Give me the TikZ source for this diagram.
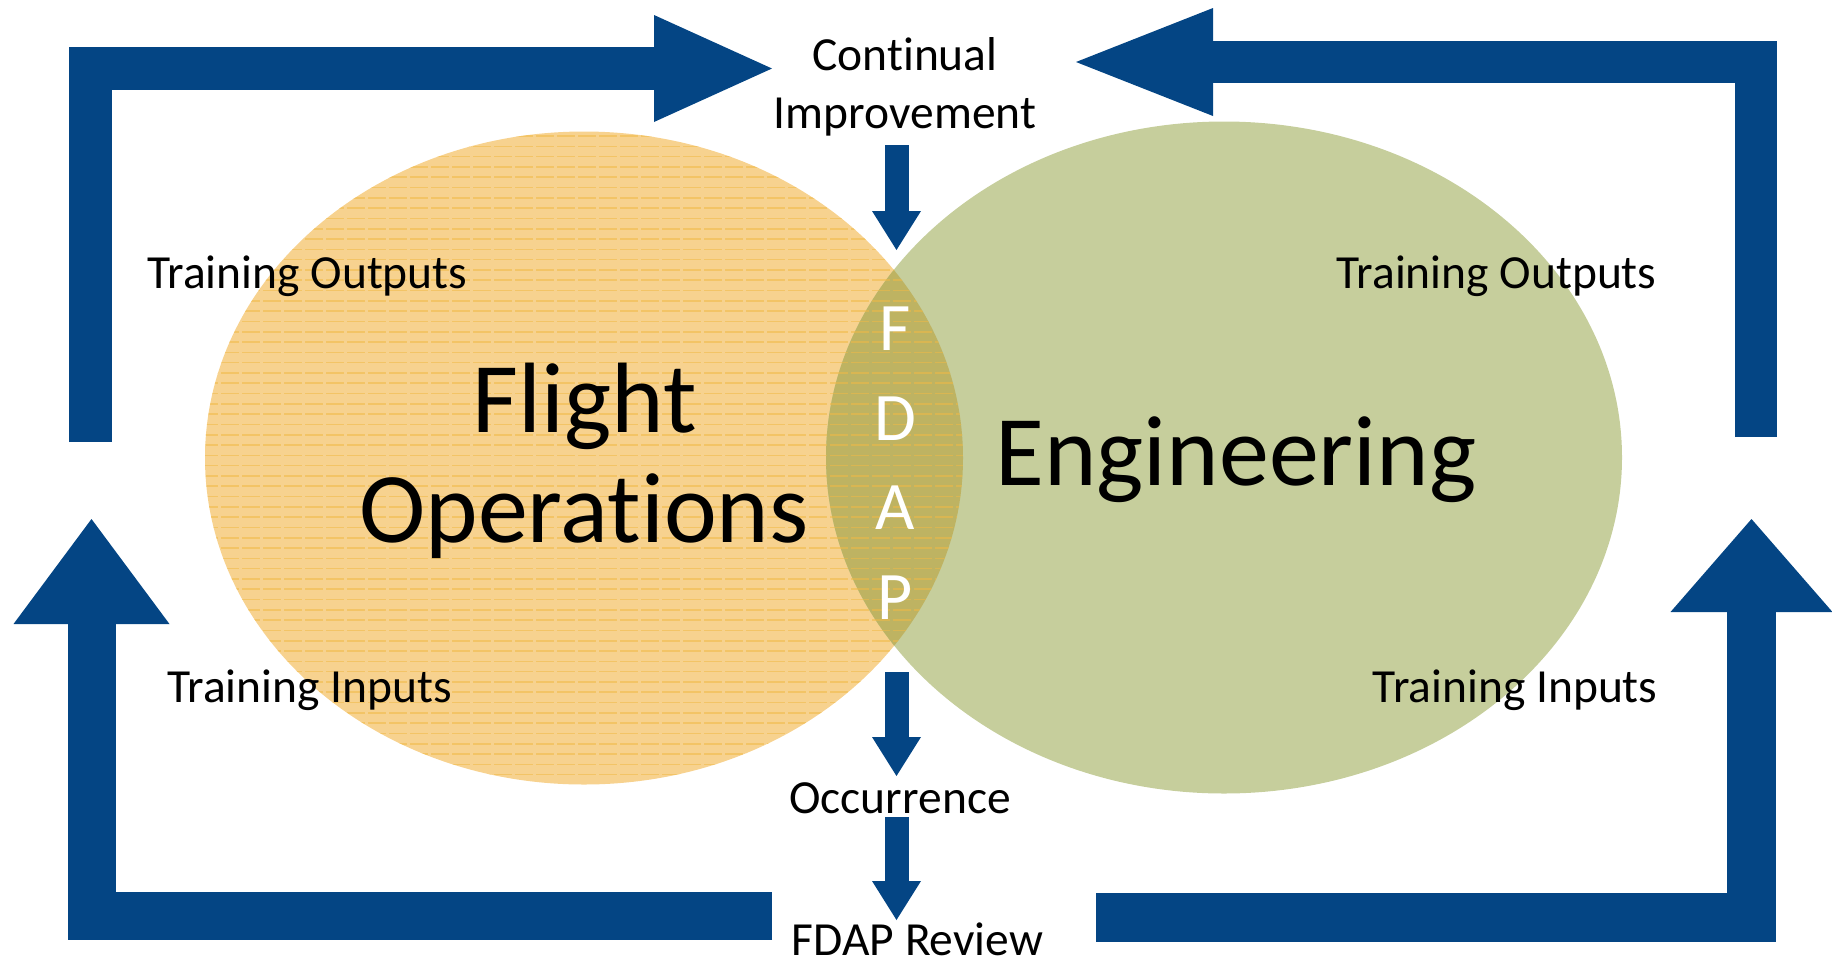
\documentclass[tikz,border=0pt]{standalone}
\usepackage{fontspec}
\setmainfont{Carlito}[Ligatures={NoCommon,NoContextual,NoRequired},Contextuals=NoAlternate]
\usetikzlibrary{arrows.meta}
\definecolor{flowblue}{RGB}{4,69,132}
\definecolor{orangefill}{RGB}{247,210,143}
\definecolor{orangeline}{RGB}{240,186,70}
\definecolor{greenfill}{RGB}{198,206,156}
\definecolor{overlapfill}{RGB}{190,179,98}
\begin{document}
\begin{tikzpicture}[x=0.5pt,y=-0.5pt,
  lbl/.style={font=\fontsize{23.75pt}{29pt}\selectfont, inner sep=0pt},
  big/.style={font=\fontsize{50pt}{55pt}\selectfont, inner sep=0pt},
  letter/.style={font=\fontsize{34pt}{40pt}\selectfont, text=white, inner sep=0pt, anchor=base},
  loop/.style={draw=flowblue, line join=miter, line cap=butt},
  smallarrow/.style={draw=flowblue, line width=12pt, line cap=butt, -{Triangle[width=24.5pt,length=19.5pt,line width=0pt]}},
  hatch/.style={draw=orangeline, line width=0.8pt, dash pattern=on 9pt off 1.5pt}
]
\useasboundingbox (0,0) rectangle (1832,960);
% circles
\fill[orangefill] (584,458) ellipse [x radius=189.5pt, y radius=163.25pt];
\fill[greenfill] (1224,457.5) ellipse [x radius=199pt, y radius=168pt];
\begin{scope}
  \clip (584,458) ellipse [x radius=189.5pt, y radius=163.25pt];
  \fill[overlapfill] (1224,457.5) ellipse [x radius=199pt, y radius=168pt];
  \foreach \yy in {136,146.3,...,784} \draw[hatch, opacity=0.55] (200,\yy) -- (970,\yy);
\end{scope}
% loop arrows
\coordinate (tlS) at (90.5,442);  \coordinate (tlE) at (772,68.5);
\coordinate (trS) at (1756,437);  \coordinate (trE) at (1076,62);
\coordinate (blS) at (772,916);   \coordinate (blE) at (91.5,519);
\coordinate (brS) at (1096,917);  \coordinate (brE) at (1751.5,519);
\draw[loop, line width=21.5pt, -{Triangle[width=53.5pt,length=59pt,line width=0pt]}] (tlS) |- (tlE);
\draw[loop, line width=21pt, -{Triangle[width=54pt,length=68.5pt,line width=0pt]}] (trS) |- (trE);
\draw[loop, line width=24pt, -{Triangle[width=78pt,length=52.5pt,line width=0pt]}] (blS) -| (blE);
\draw[loop, line width=24.5pt, -{Triangle[width=81pt,length=46.5pt,line width=0pt]}] (brS) -| (brE);
% text
\node[lbl, anchor=base] (cont) at (905,70) {Continual};
\node[lbl, anchor=base] (impr) at (905,128) {Improvement};
\node[lbl, anchor=base west] (tol) at (147,288) {Training Outputs};
\node[lbl, anchor=base east] (tor) at (1657,288) {Training Outputs};
\node[lbl, anchor=base west] (til) at (167,702) {Training Inputs};
\node[lbl, anchor=base east] (tir) at (1658,702) {Training Inputs};
\node[lbl, anchor=base] (occ) at (900,813) {Occurrence};
\node[lbl, anchor=base] (rev) at (917.5,955) {FDAP Review};
\node[big, anchor=base] (fl) at (585,432) {Flight};
\node[big, anchor=base] (ops) at (584,542) {Operat\kern0pt ions};
\node[big, anchor=base] (eng) at (1236,485) {Engineering};
\node[letter] (lF) at (895,350) {F};
\node[letter] (lD) at (895,440) {D};
\node[letter] (lA) at (895,529) {A};
\node[letter] (lP) at (895,619) {P};
% small arrows
\coordinate (a1s) at (896.5,145); \coordinate (a1e) at (896.5,250);
\coordinate (a2s) at (896.5,672); \coordinate (a2e) at (896.5,776);
\coordinate (a3s) at (896.5,817); \coordinate (a3e) at (896.5,920);
\draw[smallarrow] (a1s) -- (a1e);
\draw[smallarrow] (a2s) -- (a2e);
\draw[smallarrow] (a3s) -- (a3e);
\end{tikzpicture}
\end{document}
